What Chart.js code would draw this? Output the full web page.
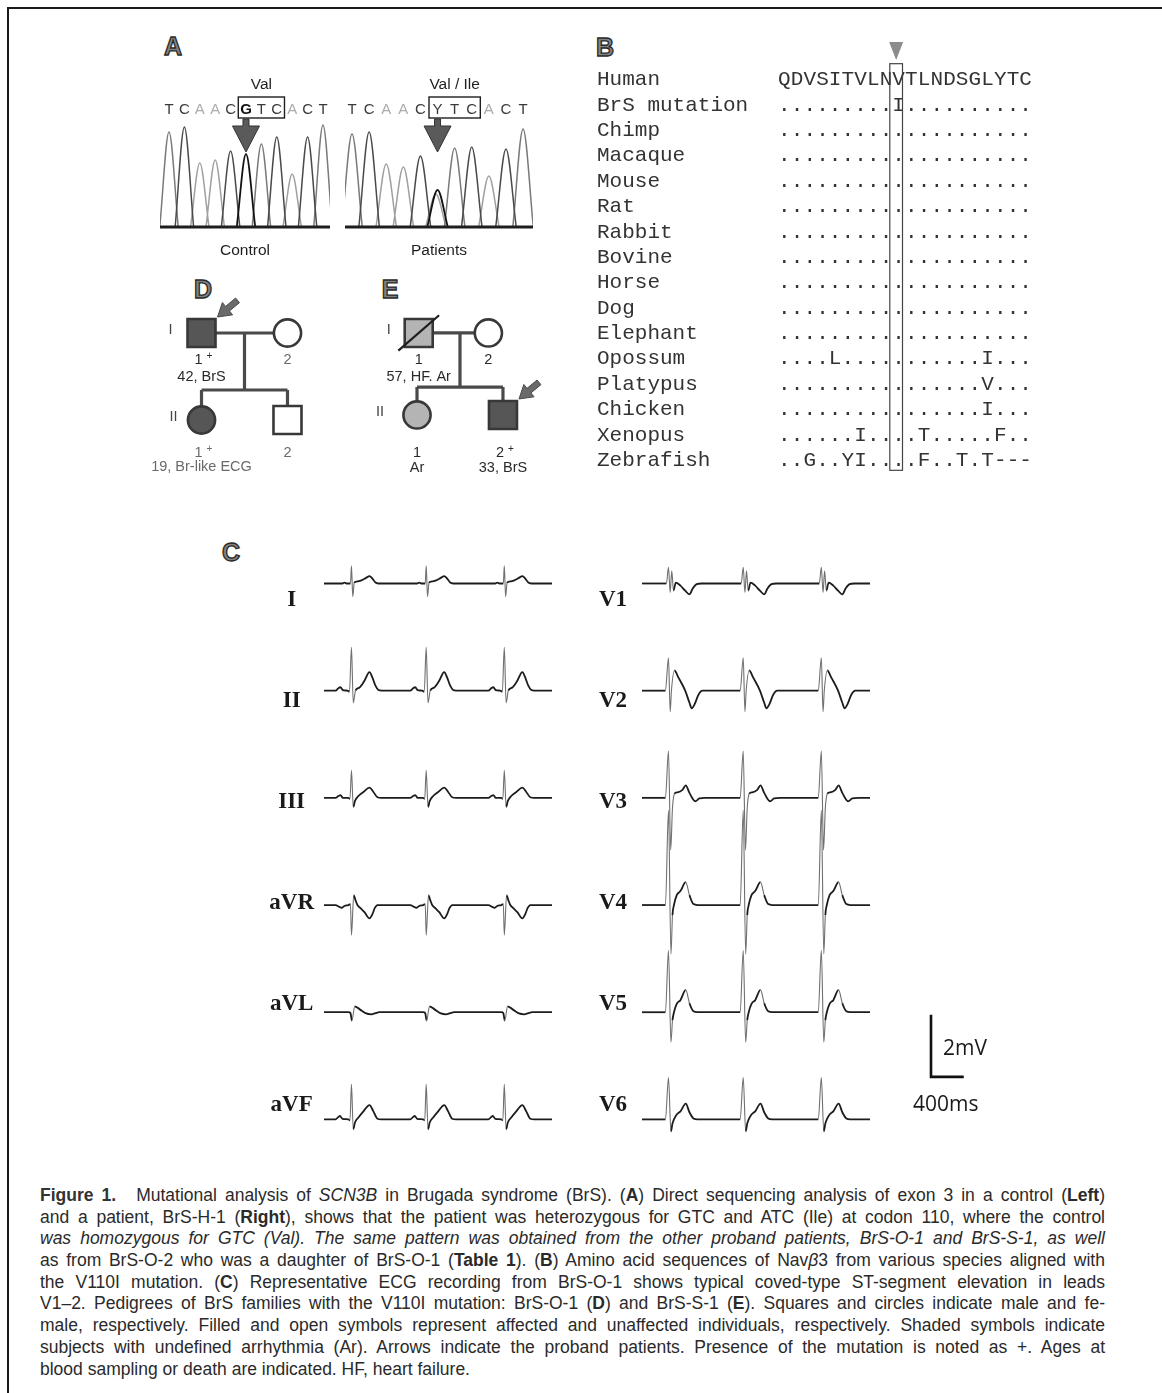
<!DOCTYPE html>
<html>
<head>
<meta charset="utf-8">
<title>Figure 1 – SCN3B in Brugada syndrome</title>
<script src="https://cdn.jsdelivr.net/npm/chart.js@4.4.1/dist/chart.umd.min.js"></script>
<style>
  html, body { margin:0; padding:0; background:#fff; }
  body { width:1162px; height:1393px; position:relative; overflow:hidden; font-family:"Liberation Sans", Arial, sans-serif; color:#222; }
  canvas { position:absolute; }
  .frame-top { position:absolute; left:7px; top:7px; width:1155px; height:2px; background:#1a1a1a; }
  .frame-left { position:absolute; left:7px; top:7px; width:2px; height:1386px; background:#1a1a1a; }
  .plabel { position:absolute; transform:translate(-50%,-50%); font:bold 25px "Liberation Sans", Arial, sans-serif; color:#828282; -webkit-text-stroke:1.3px #2a2a2a; line-height:1; }
  .note { position:absolute; font:21px "Open Sans", "Liberation Sans", sans-serif; color:#1a1a1a; line-height:1; transform:translateY(-50%); }
  .cap { position:absolute; left:40px; top:1185px; width:1065px; font:17.5px "Liberation Sans", Arial, sans-serif; color:#2a2a2a; }
  .cap .ln { height:21.7px; line-height:21.7px; white-space:nowrap; }
  .cap .ln > span { display:inline-block; transform-origin:0 50%; }
  .cap .fig { font-weight:bold; color:#333; }
  .cap .gap { display:inline-block; width:20px; }
</style>
</head>
<body>
<div class="frame-top"></div>
<div class="frame-left"></div>

<div class="plabel" style="left:173px;top:46px">A</div>
<div class="plabel" style="left:605px;top:47px">B</div>
<div class="plabel" style="left:231px;top:552px">C</div>
<div class="plabel" style="left:203px;top:289px">D</div>
<div class="plabel" style="left:390px;top:289px">E</div>

<canvas id="chromCtrl" width="190" height="200" style="left:150px;top:70px"></canvas>
<canvas id="chromPat" width="210" height="200" style="left:335px;top:70px"></canvas>
<canvas id="pedD" width="200" height="205" style="left:150px;top:275px"></canvas>
<canvas id="pedE" width="190" height="205" style="left:360px;top:275px"></canvas>
<canvas id="align" width="460" height="450" style="left:590px;top:30px"></canvas>
<canvas id="ecgLeft" width="310" height="620" style="left:250px;top:530px"></canvas>
<canvas id="ecgRight" width="430" height="620" style="left:580px;top:530px"></canvas>

<div class="note" style="left:943px;top:1047px">2mV</div>
<div class="note" style="left:913px;top:1103px">400ms</div>

<div class="cap">
  <div class="ln"><span><span class="fig">Figure 1.</span><span class="gap"></span>Mutational analysis of <i>SCN3B</i> in Brugada syndrome (BrS). (<b>A</b>) Direct sequencing analysis of exon 3 in a control (<b>Left</b>)</span></div>
  <div class="ln"><span>and a patient, BrS-H-1 (<b>Right</b>), shows that the patient was heterozygous for GTC and ATC (Ile) at codon 110, where the control</span></div>
  <div class="ln"><span><i>was homozygous for GTC (Val). The same pattern was obtained from the other proband patients, BrS-O-1 and BrS-S-1, as well</i></span></div>
  <div class="ln"><span>as from BrS-O-2 who was a daughter of BrS-O-1 (<b>Table 1</b>). (<b>B</b>) Amino acid sequences of Nav<i>β</i>3 from various species aligned with</span></div>
  <div class="ln"><span>the V110I mutation. (<b>C</b>) Representative ECG recording from BrS-O-1 shows typical coved-type ST-segment elevation in leads</span></div>
  <div class="ln"><span>V1–2. Pedigrees of BrS families with the V110I mutation: BrS-O-1 (<b>D</b>) and BrS-S-1 (<b>E</b>). Squares and circles indicate male and fe-</span></div>
  <div class="ln"><span>male, respectively. Filled and open symbols represent affected and unaffected individuals, respectively. Shaded symbols indicate</span></div>
  <div class="ln"><span>subjects with undefined arrhythmia (Ar). Arrows indicate the proband patients. Presence of the mutation is noted as +. Ages at</span></div>
  <div class="ln last"><span>blood sampling or death are indicated. HF, heart failure.</span></div>
</div>

<script>
// ======================= DATA =======================
// Panel A – sequencing chromatograms (peak heights in relative fluorescence units)
const controlBases       = ['T','C','A','A','C','G','T','C','A','C','T'];
const controlPeakHeights = [95, 100, 64, 67, 76, 73, 83, 90, 53, 90, 102];
const patientBases       = ['T','C','A','A','C','Y','T','C','A','C','T'];
const patientPeakChannel = ['T','C','A','A','C','G','T','C','A','C','T'];
const patientPeakHeights = [93, 95, 63, 60, 71, 37, 79, 80, 51, 78, 98];
const patientMinorPeakPos     = [5.9];
const patientMinorPeakChannel = ['A'];
const patientMinorPeakHeights = [33];
const codonFirstBase = 6;
const controlCodon = 'Val';
const patientCodon = 'Val / Ile';
const chromCaptions = ['Control', 'Patients'];

// Panel B – amino-acid alignment
const species = ['Human','BrS mutation','Chimp','Macaque','Mouse','Rat','Rabbit','Bovine',
                 'Horse','Dog','Elephant','Opossum','Platypus','Chicken','Xenopus','Zebrafish'];
const alignment = [
  'QDVSITVLNVTLNDSGLYTC',
  '.........I..........',
  '....................',
  '....................',
  '....................',
  '....................',
  '....................',
  '....................',
  '....................',
  '....................',
  '....................',
  '....L...........I...',
  '................V...',
  '................I...',
  '......I....T.....F..',
  '..G..YI....F..T.T---'
];
const mutatedResidue = 10;

// Panel C – ECG (one beat per lead: [ms from R, mV]); beats repeat at beatTimesMs
const leadsLeft  = ['I','II','III','aVR','aVL','aVF'];
const leadsRight = ['V1','V2','V3','V4','V5','V6'];
const beatTimesMs = [335, 1247, 2200];
const recordingMs = 2782;
const beatI   = [[-110,0],[-85,0.03],[-60,0],[-12,0],[0,0.57],[16,-0.42],[34,0.02],[61,0.06],[122,0.10],[183,0.19],[220,0.24],[256,0.16],[293,0.03],[329,0]];
const beatII  = [[-195,0],[-159,0.08],[-134,0.11],[-104,0.02],[-49,0],[-24,-0.03],[0,1.40],[22,-0.39],[49,0],[98,0.10],[159,0.32],[220,0.60],[256,0.42],[293,0.16],[329,0.02],[366,0]];
const beatIII = [[-195,0],[-159,0.06],[-134,0.09],[-104,0],[-37,0],[-18,-0.03],[0,0.89],[22,-0.29],[43,-0.10],[85,0.06],[146,0.19],[220,0.33],[268,0.19],[317,0.02],[366,0]];
const beatAVR = [[-195,0],[-146,-0.06],[-122,-0.09],[-85,-0.03],[-37,0],[-12,0.03],[0,-0.97],[28,0.32],[49,0.16],[73,0],[110,-0.10],[159,-0.23],[220,-0.43],[256,-0.29],[284,-0.10],[317,0]];
const beatAVL = [[-37,0],[-12,-0.03],[6,-0.27],[40,0.19],[98,0.10],[171,-0.03],[244,-0.07],[293,-0.03],[342,0]];
const beatAVF = [[-195,0],[-159,0.08],[-140,0.11],[-110,0.02],[-37,0],[-18,-0.03],[0,1.13],[22,-0.32],[43,-0.10],[85,0.06],[146,0.26],[220,0.46],[268,0.26],[317,0.02],[366,0]];
const beatV1  = [[-37,0],[-12,0.52],[9,-0.29],[28,0.41],[49,-0.23],[77,0.03],[131,-0.06],[192,-0.23],[244,-0.35],[284,-0.16],[333,-0.02],[390,0]];
const beatV2  = [[-49,0],[-12,1.06],[9,-0.68],[24,0],[61,0.65],[110,0.42],[192,0],[244,-0.39],[272,-0.57],[305,-0.45],[354,-0.13],[403,0]];
const beatV3  = [[-49,0],[-12,1.51],[15,-1.68],[37,-0.32],[61,0.13],[98,0.18],[159,0.26],[199,0.40],[244,0.16],[314,-0.11],[366,-0.02],[439,0]];
const beatV4  = [[-49,0],[-12,3.06],[18,-1.58],[37,-0.32],[55,0],[89,0.32],[134,0.45],[199,0.74],[244,0.32],[293,0.03],[342,0]];
const beatV5  = [[-49,0],[-12,2.00],[18,-0.97],[37,-0.26],[55,0],[89,0.27],[134,0.39],[199,0.72],[244,0.29],[293,0.03],[342,0]];
const beatV6  = [[-49,0],[-12,1.35],[18,-0.39],[37,-0.13],[55,0],[89,0.16],[134,0.26],[199,0.51],[244,0.23],[293,0.03],[342,0]];
const scaleBarMv = 2;
const scaleBarMs = 400;

// Panels D / E – pedigrees
const pedDSex      = ['M','F','F','M'];
const pedDStatus   = ['affected','unaffected','affected','unaffected'];
const pedDGen      = [1, 1, 2, 2];
const pedDPos      = [1, 2, 1, 2];
const pedDId       = ['1','2','1','2'];
const pedDCarrier  = [true, false, true, false];
const pedDNote     = ['42, BrS', '', '19, Br-like ECG', ''];
const pedDProband  = [true, false, false, false];
const pedDDeceased = [false, false, false, false];

const pedESex      = ['M','F','F','M'];
const pedEStatus   = ['arrhythmia','unaffected','arrhythmia','affected'];
const pedEGen      = [1, 1, 2, 2];
const pedEPos      = [1.02, 1.83, 1, 2];
const pedEId       = ['1','2','1','2'];
const pedECarrier  = [false, false, false, true];
const pedENote     = ['57, HF. Ar', '', 'Ar', '33, BrS'];
const pedEProband  = [false, false, false, true];
const pedEDeceased = [true, false, false, false];
const generationNames = ['I', 'II'];

// ======================= RENDERING =======================
Chart.defaults.font.family = '"Liberation Sans", Arial, sans-serif';
Chart.defaults.layout.autoPadding = false;
const baseOpts = { responsive:false, animation:false, events:[], devicePixelRatio:1 };
const noLegend = { legend:{display:false}, tooltip:{enabled:false} };
const noEdgePad = s => { s.paddingTop = 0; s.paddingBottom = 0; };

function drawArrow(ctx, tipX, tipY, ux, uy, len, headLen, headW, shaftW, fill, stroke) {
  const px = -uy, py = ux;
  const bx = tipX + ux*headLen, by = tipY + uy*headLen;
  const tx = tipX + ux*len, ty = tipY + uy*len;
  ctx.beginPath();
  ctx.moveTo(tipX, tipY);
  ctx.lineTo(bx + px*headW, by + py*headW);
  ctx.lineTo(bx + px*shaftW/2, by + py*shaftW/2);
  ctx.lineTo(tx + px*shaftW/2, ty + py*shaftW/2);
  ctx.lineTo(tx - px*shaftW/2, ty - py*shaftW/2);
  ctx.lineTo(bx - px*shaftW/2, by - py*shaftW/2);
  ctx.lineTo(bx - px*headW, by - py*headW);
  ctx.closePath();
  ctx.fillStyle = fill; ctx.fill();
  ctx.lineWidth = 1; ctx.strokeStyle = stroke; ctx.stroke();
}

// ---------- Panel A ----------
const channelColor = { A:'#a0a0a0', C:'#4a4a4a', G:'#121212', T:'#7a7a7a' };
const peakHalfWidth = 0.6;
function chromDatasets(channels, heights, minorPos, minorCh, minorH, xmin, xmax) {
  const peaks = channels.map((c, i) => ({ c, p:i+1, h:heights[i] }));
  minorPos.forEach((p, i) => peaks.push({ c:minorCh[i], p, h:minorH[i] }));
  const ds = [{ data:[{x:xmin,y:0},{x:xmax,y:0}], borderColor:'#1e1e1e', borderWidth:3, pointRadius:0 }];
  ['G','C','T','A'].forEach(ch => {
    const list = peaks.filter(k => k.c === ch).sort((a, b) => a.p - b.p);
    if (!list.length) return;
    const data = [];
    list.forEach(k => data.push({x:k.p-peakHalfWidth,y:0},{x:k.p,y:k.h},{x:k.p+peakHalfWidth,y:0},{x:k.p+peakHalfWidth,y:null}));
    ds.push({ data, borderColor:channelColor[ch], borderWidth: ch === 'G' ? 1.8 : 1.5, pointRadius:0,
              cubicInterpolationMode:'monotone', spanGaps:false, fill:false });
  });
  return ds;
}
const chromAnnot = {
  id:'chromAnnot',
  afterDraw(chart, args, o) {
    const { ctx, chartArea:a, scales:{x} } = chart;
    ctx.save();
    const x0 = x.getPixelForValue(codonFirstBase - 0.5), x1 = x.getPixelForValue(codonFirstBase + 2.5);
    ctx.strokeStyle = '#1e1e1e'; ctx.lineWidth = 1.4;
    ctx.strokeRect(x0, a.top - 23, x1 - x0, 21);
    ctx.fillStyle = '#1e1e1e'; ctx.font = '15.5px "Liberation Sans", Arial, sans-serif';
    ctx.textAlign = 'center'; ctx.textBaseline = 'middle';
    ctx.fillText(o.codon, x.getPixelForValue(codonFirstBase + 1), a.top - 35);
    ctx.fillText(o.caption, (a.left + a.right) / 2, a.bottom + 21);
    drawArrow(ctx, x.getPixelForValue(codonFirstBase), a.top + 32, 0, -1, 33, 26, 13.5, 6, '#5a5a5a', '#333');
    ctx.restore();
  }
};
function chromChart(id, bases, channels, heights, mPos, mCh, mH, xmin, xmax, padL, padR, codon, caption) {
  new Chart(document.getElementById(id), {
    type:'line',
    data:{ datasets: chromDatasets(channels, heights, mPos, mCh, mH, xmin, xmax) },
    options:{ ...baseOpts,
      layout:{ autoPadding:false, padding:{ left:padL, right:padR, top:0, bottom:40 } },
      plugins:{ ...noLegend, chromAnnot:{ codon, caption } },
      scales:{
        x:{ type:'linear', position:'top', min:xmin, max:xmax,
            afterBuildTicks: s => { s.ticks = bases.map((b, i) => ({ value:i+1 })); },
            afterFit: s => { s.height = 50; s.paddingLeft = 0; s.paddingRight = 0; },
            grid:{ display:false }, border:{ display:false },
            ticks:{ autoSkip:false, maxRotation:0, padding:-7,
                    font: c => ({ size:15, family:'"Liberation Sans", Arial, sans-serif', weight: bases[c.index] === 'G' ? 'bold' : 'normal' }),
                    color: c => bases[c.index] === 'A' ? '#acacac' : (bases[c.index] === 'G' ? '#111' : '#3a3a3a'),
                    callback:(v, i) => bases[i] } },
        y:{ type:'linear', display:false, min:-3, max:107 }
      }
    },
    plugins:[chromAnnot]
  });
}
chromChart('chromCtrl', controlBases, controlBases, controlPeakHeights, [], [], [], 0.416, 11.456, 10, 10, controlCodon, chromCaptions[0]);
chromChart('chromPat', patientBases, patientPeakChannel, patientPeakHeights, patientMinorPeakPos, patientMinorPeakChannel, patientMinorPeakHeights, 0.59, 11.58, 10, 12, patientCodon, chromCaptions[1]);

// ---------- Panel B ----------
const alignPlugin = {
  id:'alignPlugin',
  afterDraw(chart) {
    const { ctx, chartArea:a, scales:{x, y} } = chart;
    ctx.save();
    ctx.font = '21px "Liberation Mono", "DejaVu Sans Mono", monospace';
    ctx.fillStyle = '#333'; ctx.textAlign = 'center'; ctx.textBaseline = 'middle';
    alignment.forEach((row, i) => {
      const py = y.getPixelForValue(i);
      [...row].forEach((ch, j) => ctx.fillText(ch, x.getPixelForValue(j + 1), py));
    });
    const bx0 = x.getPixelForValue(mutatedResidue - 0.5) - 2.5, bx1 = x.getPixelForValue(mutatedResidue + 0.5) - 2.5;
    const by0 = y.getPixelForValue(0) - 16, by1 = y.getPixelForValue(species.length - 1) + 10;
    ctx.strokeStyle = '#444'; ctx.lineWidth = 1.2;
    ctx.strokeRect(bx0, by0, bx1 - bx0, by1 - by0);
    const ax = (bx0 + bx1) / 2;
    ctx.fillStyle = '#8c8c8c';
    ctx.beginPath(); ctx.moveTo(ax - 7, a.top - 25); ctx.lineTo(ax + 7, a.top - 25); ctx.lineTo(ax, a.top - 7); ctx.closePath(); ctx.fill();
    ctx.restore();
  }
};
new Chart(document.getElementById('align'), {
  type:'scatter',
  data:{ datasets:[{ data:[] }] },
  options:{ ...baseOpts,
    layout:{ autoPadding:false, padding:{ left:7, right:18, top:37, bottom:7 } },
    plugins:{ ...noLegend },
    scales:{
      x:{ type:'linear', display:false, min:0.5, max:alignment[0].length + 0.5 },
      y:{ type:'category', labels:species, offset:true,
          afterFit: s => { s.width = 181; noEdgePad(s); },
          grid:{ display:false }, border:{ display:false },
          ticks:{ autoSkip:false, crossAlign:'far', padding:0, color:'#333',
                  font:{ family:'"Liberation Mono", "DejaVu Sans Mono", monospace', size:21 } } }
    }
  },
  plugins:[alignPlugin]
});

// ---------- Panel C ----------
const ecgTopMv = 1.403, ecgRowGapMv = 3.458;        // baseline layout of the rows
const labelTopMv = 1.935, labelGapMv = 3.258;       // lead name layout
function buildTrace(tpl, off) {
  const pts = [{ x:0, y:off }];
  beatTimesMs.forEach(t => tpl.forEach(([dt, v]) => pts.push({ x:t + dt, y:off + v })));
  pts.push({ x:recordingMs, y:off });
  return pts;
}
const steep = c => Math.abs(c.p1.y - c.p0.y) > 10 && Math.abs(c.p1.y - c.p0.y) > 3 * Math.abs(c.p1.x - c.p0.x);
function ecgChart(id, names, waves, xMax, axisW, labelPad, padR, extra) {
  const datasets = waves.map((w, k) => ({
    data: buildTrace(w, -(ecgTopMv + k * ecgRowGapMv)),
    borderColor:'#1c1c1c', borderWidth:1.8, pointRadius:0, fill:false,
    cubicInterpolationMode:'monotone',
    segment:{ borderColor: c => steep(c) ? '#707070' : undefined, borderWidth: c => steep(c) ? 1.1 : undefined }
  })).concat(extra || []);
  new Chart(document.getElementById(id), {
    type:'line',
    data:{ datasets },
    options:{ ...baseOpts,
      layout:{ autoPadding:false, padding:{ left:0, right:padR, top:10, bottom:0 } },
      plugins:{ ...noLegend },
      scales:{
        x:{ type:'linear', display:false, min:0, max:xMax },
        y:{ type:'linear', min:-19.68, max:0,
            afterBuildTicks: s => { s.ticks = names.map((n, k) => ({ value: -(labelTopMv + k * labelGapMv) })); },
            afterFit: s => { s.width = axisW; noEdgePad(s); },
            grid:{ display:false, drawTicks:false }, border:{ display:false },
            ticks:{ autoSkip:false, crossAlign:'center', padding:labelPad, color:'#1a1a1a',
                    font:{ family:'"Liberation Serif", "Times New Roman", serif', size:23, weight:'bold' },
                    callback:(v, i) => names[i] } }
      }
    }
  });
}
ecgChart('ecgLeft', leadsLeft, [beatI, beatII, beatIII, beatAVR, beatAVL, beatAVF], 2782, 74, 10, 8);
const barX = 3526, barY = -17.32;   // scale-bar corner position
ecgChart('ecgRight', leadsRight, [beatV1, beatV2, beatV3, beatV4, beatV5, beatV6], 4368, 62, 15, 10, [{
  data:[{x:barX, y:barY + scaleBarMv}, {x:barX, y:barY}, {x:barX + scaleBarMs, y:barY}],
  borderColor:'#111', borderWidth:2.6, pointRadius:0, tension:0, fill:false,
  borderCapStyle:'butt', borderJoinStyle:'miter'
}]);

// ---------- Panels D / E ----------
const statusFill = { affected:'#565656', unaffected:'#ffffff', arrhythmia:'#b4b4b4' };
const pedPlugin = {
  id:'pedPlugin',
  afterDatasetsDraw(chart, args, o) {
    const { ctx, scales:{x, y} } = chart;
    const p = o.ped;
    ctx.save();
    ctx.textAlign = 'center'; ctx.textBaseline = 'middle'; ctx.fillStyle = '#2a2a2a';
    p.pos.forEach((pos, i) => {
      const cx = x.getPixelForValue(pos), cy = y.getPixelForValue(p.gen[i]);
      const off = o.textOffsets[p.gen[i] - 1];
      ctx.font = '14.5px "Liberation Sans", Arial, sans-serif';
      if (p.carrier[i]) {
        ctx.fillText(p.id[i], cx - 3, cy + off[0]);
        ctx.font = '10px "Liberation Sans", Arial, sans-serif';
        ctx.fillText('+', cx + 8, cy + off[0] - 4);
        ctx.font = '14.5px "Liberation Sans", Arial, sans-serif';
      } else {
        ctx.fillText(p.id[i], cx, cy + off[0]);
      }
      if (p.note[i]) ctx.fillText(p.note[i], cx, cy + off[1]);
      if (p.proband[i]) drawArrow(ctx, cx + 16, cy - 16, 0.77, -0.64, 26, 13, 8, 6, '#6a6a6a', '#4a4a4a');
    });
    ctx.fillStyle = '#444'; ctx.font = '14.5px "Liberation Sans", Arial, sans-serif';
    [1, 2].forEach(g => {
      const xs = p.pos.filter((v, i) => p.gen[i] === g);
      ctx.fillText(generationNames[g - 1], x.getPixelForValue(Math.min(...xs)) - o.genLabelGap[g - 1], y.getPixelForValue(g) - 3);
    });
    ctx.restore();
  }
};
function pedChart(id, ped, xr, yr, sib, textOffsets, genLabelGap) {
  const pts = ped.pos.map((v, i) => ({ x:v, y:ped.gen[i] }));
  const parents = [0, 1, 2, 3].filter(i => ped.gen[i] === 1).map(i => ped.pos[i]);
  const kids = [0, 1, 2, 3].filter(i => ped.gen[i] === 2).map(i => ped.pos[i]);
  const mid = (kids[0] + kids[1]) / 2;
  const line = d => ({ type:'line', data:d, showLine:true, borderColor:'#4a4a4a', borderWidth:3.2, pointRadius:0, tension:0 });
  const datasets = [
    { data: pts.filter((v, i) => ped.deceased[i]), pointStyle:'line', pointRotation:-41, pointRadius:27,
      borderColor:'#1e1e1e', borderWidth:2.2, backgroundColor:'#1e1e1e' },
    { data: pts, pointStyle: ped.sex.map(s => s === 'M' ? 'rect' : 'circle'),
      pointRadius: ped.sex.map(s => s === 'M' ? 19.8 : 13.6),
      backgroundColor: ped.status.map(s => statusFill[s]), borderColor:'#383838', borderWidth:2.6 },
    line([{x:parents[0], y:1}, {x:parents[1], y:1}]),
    line([{x:mid, y:1}, {x:mid, y:sib}]),
    line([{x:kids[0], y:sib}, {x:kids[1], y:sib}]),
    line([{x:kids[0], y:sib}, {x:kids[0], y:2}]),
    line([{x:kids[1], y:sib}, {x:kids[1], y:2}])
  ];
  new Chart(document.getElementById(id), {
    type:'scatter',
    data:{ datasets },
    options:{ ...baseOpts,
      layout:{ autoPadding:false, padding:0 },
      plugins:{ ...noLegend, pedPlugin:{ ped, textOffsets, genLabelGap } },
      scales:{
        x:{ type:'linear', display:false, min:xr[0], max:xr[1] },
        y:{ type:'linear', display:false, reverse:true, min:yr[0], max:yr[1] }
      }
    },
    plugins:[pedPlugin]
  });
}
pedChart('pedD', { sex:pedDSex, status:pedDStatus, gen:pedDGen, pos:pedDPos, id:pedDId, carrier:pedDCarrier,
                   note:pedDNote, proband:pedDProband, deceased:pedDDeceased },
         [0.401, 2.727], [0.333, 2.69], 1.655, [[27, 44], [33, 47]], [31, 28]);
pedChart('pedE', { sex:pedESex, status:pedEStatus, gen:pedEGen, pos:pedEPos, id:pedEId, carrier:pedECarrier,
                   note:pedENote, proband:pedEProband, deceased:pedEDeceased },
         [0.337, 2.547], [0.293, 2.793], 1.66, [[27, 44], [38, 53]], [30, 37]);

// ---------- caption justification ----------
(function fitCaption() {
  const T = 1065;
  document.querySelectorAll('.cap .ln').forEach(ln => {
    if (ln.classList.contains('last')) return;
    const s = ln.firstElementChild;
    const w = s.getBoundingClientRect().width;
    const n = (s.textContent.match(/ /g) || []).length;
    if (w > T) s.style.transform = 'scaleX(' + (T / w) + ')';
    else if (n) s.style.wordSpacing = ((T - w) / n) + 'px';
  });
})();
</script>
</body>
</html>
